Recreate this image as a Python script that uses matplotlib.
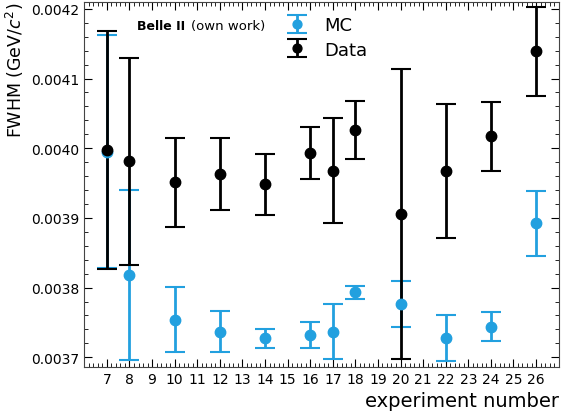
import numpy as np
import matplotlib
matplotlib.use("Agg")
import matplotlib.pyplot as plt
from matplotlib.ticker import MultipleLocator, AutoMinorLocator

# FWHM per experiment, data and MC
exp = [7, 8, 10, 12, 14, 16, 17, 18, 20, 22, 24, 26]
data_fwhm = [0.003997, 0.003981, 0.003951, 0.003963, 0.003948, 0.003993,
             0.003968, 0.004026, 0.003905, 0.003967, 0.004017, 0.004139]
data_err = [0.000171, 0.000149, 0.000064, 0.000051, 0.000044, 0.000037,
            0.000075, 0.000042, 0.000208, 0.000096, 0.000049, 0.000064]
mc_fwhm = [0.003995, 0.003818, 0.003754, 0.003737, 0.003727, 0.003732,
           0.003737, 0.003793, 0.003777, 0.003727, 0.003744, 0.003892]
mc_err = [0.000167, 0.000122, 0.000047, 0.000029, 0.000014, 0.000019,
          0.000039, 0.000009, 0.000033, 0.000033, 0.000021, 0.000047]

blue = '#22a0df'

fig = plt.figure(figsize=(5.62, 4.14), dpi=100)
ax = fig.add_axes([0.150, 0.111, 0.844, 0.882])

ax.errorbar(exp, mc_fwhm, yerr=mc_err, fmt='o', color=blue, ms=7.5,
            elinewidth=2, capsize=7.5, capthick=1.5, label='MC')
ax.errorbar(exp, data_fwhm, yerr=data_err, fmt='o', color='black', ms=7.5,
            elinewidth=2, capsize=7.5, capthick=1.5, label='Data')

ax.set_xlim(6, 27)
ax.set_ylim(0.003686, 0.00421)
ax.set_xticks(np.arange(7, 27))
ax.xaxis.set_minor_locator(AutoMinorLocator(5))
ax.yaxis.set_major_locator(MultipleLocator(0.0001))
ax.yaxis.set_minor_locator(AutoMinorLocator(5))
ax.yaxis.set_major_formatter(matplotlib.ticker.FormatStrFormatter('%.4f'))
ax.tick_params(which='both', direction='in', top=True, right=True, labelsize=10)
ax.tick_params(which='major', length=6)
ax.tick_params(which='minor', length=3)
for s in ax.spines.values():
    s.set_color('#444444')

ax.set_xlabel('experiment number', fontsize=14, loc='right')
ax.set_ylabel('FWHM (GeV/$c^2$)', fontsize=12.5, loc='top')

ax.text(0.112, 0.935, 'Belle II', transform=ax.transAxes, fontsize=9,
        fontweight='bold', va='center')
ax.text(0.226, 0.935, '(own work)', transform=ax.transAxes, fontsize=9.5,
        va='center')

ax.legend(loc='upper left', bbox_to_anchor=(0.395, 1.005), frameon=False,
          fontsize=13, handlelength=1.0, markerscale=0.85,
          labelspacing=0.35, handletextpad=1.0)

fig.savefig('out.png', dpi=100)
